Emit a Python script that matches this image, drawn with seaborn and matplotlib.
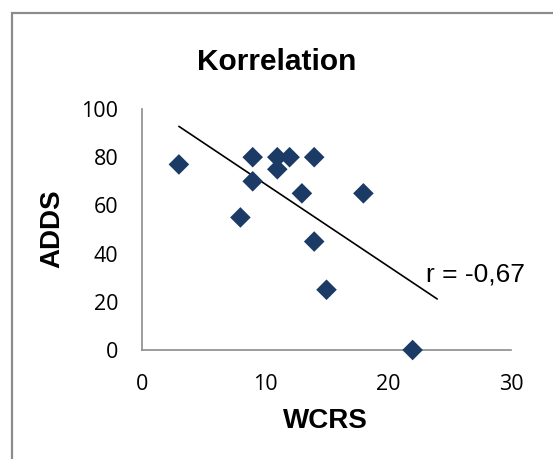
import numpy as np
import pandas as pd
import matplotlib
matplotlib.use("Agg")
import matplotlib.pyplot as plt
import seaborn as sns
from matplotlib.patches import Rectangle

# Data
wcrs = [3, 9, 11, 12, 14, 11, 9, 13, 18, 8, 14, 15, 22]
adds = [77, 80, 80, 80, 80, 75, 70, 65, 65, 55, 45, 25, 0]
x_ticks = [0, 10, 20, 30]
y_ticks = [0, 20, 40, 60, 80, 100]
title = "Korrelation"
r_label = "r = -0,67"
trend_range = [3, 24]

df = pd.DataFrame({"WCRS": wcrs, "ADDS": adds})

sns.set_style("white")
plt.rcParams["text.color"] = "black"
W, H = 553, 459
fig = plt.figure(figsize=(W / 100, H / 100), dpi=100)
ax = fig.add_axes([142 / W, 1 - 350 / H, (511 - 142) / W, (350 - 109) / H])

# trend line (least squares fit of data)
slope, intercept = np.polyfit(df["WCRS"], df["ADDS"], 1)
tx = np.array(trend_range, dtype=float)
trend = pd.DataFrame({"x": tx, "y": slope * tx + intercept})
sns.lineplot(data=trend, x="x", y="y", ax=ax, color="black", linewidth=1.2, zorder=2)

sns.scatterplot(data=df, x="WCRS", y="ADDS", ax=ax, marker="D", s=110,
                color="#1B3A66", edgecolor="none", linewidth=0, zorder=3, clip_on=False)

ax.set_xlim(0, 30)
ax.set_ylim(0, 100)
ax.set_xticks(x_ticks)
ax.set_yticks(y_ticks)
tick_font = dict(family="Open Sans", fontsize=15.5, color="black")
ax.set_xticklabels([str(t) for t in x_ticks], **tick_font)
ax.set_yticklabels([str(t) for t in y_ticks], **tick_font)

for s in ["top", "right"]:
    ax.spines[s].set_visible(False)
for s in ["left", "bottom"]:
    ax.spines[s].set_color("#8C8C8C")
    ax.spines[s].set_linewidth(1.2)
ax.tick_params(axis="both", direction="out", length=6, width=1.2, color="#8C8C8C",
               labelcolor="black")
ax.tick_params(axis="y", pad=11)
ax.tick_params(axis="x", pad=11)
ax.grid(False)

ax.set_xlabel("")
ax.set_ylabel("")
fig.text(325 / W, 1 - 421 / H, "WCRS", ha="center", va="center", color="black",
         family="Liberation Sans", fontweight="bold", fontsize=20)
fig.text(52 / W, 1 - 229 / H, "ADDS", ha="center", va="center", rotation=90,
         color="black", family="Liberation Sans", fontweight="bold", fontsize=20)
fig.text(277 / W, 1 - 62 / H, title, ha="center", va="center", color="black",
         family="Liberation Sans", fontweight="bold", fontsize=21.5)
ax.text(23.1, 31.5, r_label, ha="left", va="center", color="black",
        family="Liberation Sans", fontsize=19)

# outer chart border (continues past the right and bottom edges)
fig.patches.append(Rectangle((12 / W, -0.1), 1.2, 1 - 13 / H + 0.1,
                             transform=fig.transFigure, fill=False,
                             edgecolor="#8C8C8C", linewidth=1.6))

fig.savefig("out.png", dpi=100)
